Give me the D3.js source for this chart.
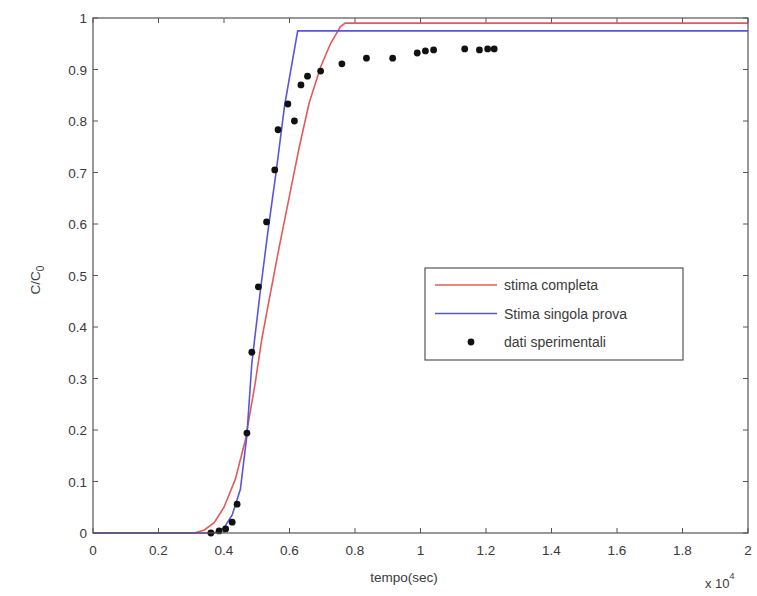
<!DOCTYPE html>
<html>
<head>
<meta charset="utf-8">
<script src="https://cdn.jsdelivr.net/npm/d3@7"></script>
<style>
  body { margin: 0; background: #fff; }
  svg text { font-family: "Liberation Sans", Arial, sans-serif; fill: #3a3a3a; }
</style>
</head>
<body>
<svg id="chart" width="757" height="596"></svg>
<script>
// data (tempo in sec, C/C0)
var completaT = [0, 3100, 3400, 3700, 4000, 4350, 4650, 4950, 5150, 5400, 5700, 6000, 6300, 6600, 6950, 7250, 7550, 7700, 20000];
var completaV = [0, 0, 0.006, 0.02, 0.05, 0.105, 0.18, 0.29, 0.375, 0.46, 0.56, 0.655, 0.75, 0.835, 0.905, 0.95, 0.983, 0.99, 0.99];

var singolaT = [0, 3700, 4000, 4250, 4500, 4700, 4850, 5100, 5350, 5600, 5850, 6250, 20000];
var singolaV = [0, 0, 0.01, 0.035, 0.085, 0.19, 0.33, 0.465, 0.59, 0.705, 0.83, 0.975, 0.975];

var datiT = [3600, 3850, 4050, 4250, 4400, 4700, 4850, 5050, 5300, 5550, 5650, 5950, 6150, 6350, 6550, 6950, 7600, 8350, 9150, 9900, 10150, 10400, 11350, 11800, 12050, 12250];
var datiV = [0, 0.004, 0.008, 0.021, 0.056, 0.194, 0.351, 0.478, 0.604, 0.705, 0.783, 0.833, 0.8, 0.87, 0.887, 0.897, 0.911, 0.922, 0.922, 0.932, 0.936, 0.938, 0.94, 0.938, 0.94, 0.94];

var xTicks = [0, 0.2, 0.4, 0.6, 0.8, 1, 1.2, 1.4, 1.6, 1.8, 2];
var yTicks = [0, 0.1, 0.2, 0.3, 0.4, 0.5, 0.6, 0.7, 0.8, 0.9, 1];

(function BreakThrough() {
    var svg = d3.select("#chart"),
        x0 = 93, x1 = 748, y0 = 533, y1 = 18;

    var x = d3.scaleLinear().domain([0, 20000]).range([x0, x1]);
    var y = d3.scaleLinear().domain([0, 1]).range([y0, y1]);

    var frameColor = "#555";

    // ticks inside the box, matlab style
    var g = svg.append("g");
    xTicks.forEach(function(t) {
        var px = x(t * 10000);
        g.append("line").attr("x1", px).attr("x2", px).attr("y1", y0).attr("y2", y0 - 5)
         .attr("stroke", frameColor);
        g.append("line").attr("x1", px).attr("x2", px).attr("y1", y1).attr("y2", y1 + 5)
         .attr("stroke", frameColor);
        g.append("text").attr("x", px).attr("y", 555)
         .attr("text-anchor", "middle").style("font-size", "13.5px")
         .text(t);
    });
    yTicks.forEach(function(t) {
        var py = y(t);
        g.append("line").attr("x1", x0).attr("x2", x0 + 5).attr("y1", py).attr("y2", py)
         .attr("stroke", frameColor);
        g.append("line").attr("x1", x1).attr("x2", x1 - 5).attr("y1", py).attr("y2", py)
         .attr("stroke", frameColor);
        g.append("text").attr("x", 87).attr("y", py + 5)
         .attr("text-anchor", "end").style("font-size", "13.5px")
         .text(t);
    });

    var line = d3.line()
        .x(function(d) { return x(d[0]); })
        .y(function(d) { return y(d[1]); });

    svg.append("path")
       .attr("d", line(d3.zip(completaT, completaV)))
       .attr("fill", "none").attr("stroke", "#e35a5a").attr("stroke-width", 1.6);

    svg.append("path")
       .attr("d", line(d3.zip(singolaT, singolaV)))
       .attr("fill", "none").attr("stroke", "#5656e0").attr("stroke-width", 1.6);

    svg.selectAll(".dot")
       .data(d3.zip(datiT, datiV))
       .enter().append("circle")
       .attr("class", "dot")
       .attr("cx", function(d) { return x(d[0]); })
       .attr("cy", function(d) { return y(d[1]); })
       .attr("r", 3.4)
       .attr("fill", "#111");

    // frame
    svg.append("rect")
       .attr("x", x0).attr("y", y1)
       .attr("width", x1 - x0).attr("height", y0 - y1)
       .attr("fill", "none").attr("stroke", frameColor).attr("stroke-width", 1.2);

    // axis labels
    svg.append("text").attr("x", 404).attr("y", 582)
       .attr("text-anchor", "middle").style("font-size", "13.5px")
       .text("tempo(sec)");

    var mult = svg.append("text").attr("x", 705).attr("y", 588).style("font-size", "13px");
    mult.append("tspan").text("x 10");
    mult.append("tspan").attr("dy", -9).style("font-size", "9px").text("4");

    var yl = svg.append("text")
       .attr("transform", "translate(40,280) rotate(-90)")
       .attr("text-anchor", "middle").style("font-size", "13.5px");
    yl.append("tspan").text("C/C");
    yl.append("tspan").attr("dy", 4).style("font-size", "10px").text("0");

    // legend
    var lg = svg.append("g");
    lg.append("rect").attr("x", 425).attr("y", 268).attr("width", 258).attr("height", 92)
      .attr("fill", "#fff").attr("stroke", frameColor).attr("stroke-width", 1.2);
    var items = [
        {label: "stima completa", color: "#e35a5a"},
        {label: "Stima singola prova", color: "#5656e0"},
        {label: "dati sperimentali", color: null}
    ];
    items.forEach(function(it, i) {
        var cy = 285 + i * 28.5;
        if (it.color) {
            lg.append("line").attr("x1", 435).attr("x2", 497).attr("y1", cy).attr("y2", cy)
              .attr("stroke", it.color).attr("stroke-width", 1.6);
        } else {
            lg.append("circle").attr("cx", 471).attr("cy", cy).attr("r", 3.4).attr("fill", "#111");
        }
        lg.append("text").attr("x", 504).attr("y", cy + 5).style("font-size", "14px").text(it.label);
    });
}());
</script>
</body>
</html>
